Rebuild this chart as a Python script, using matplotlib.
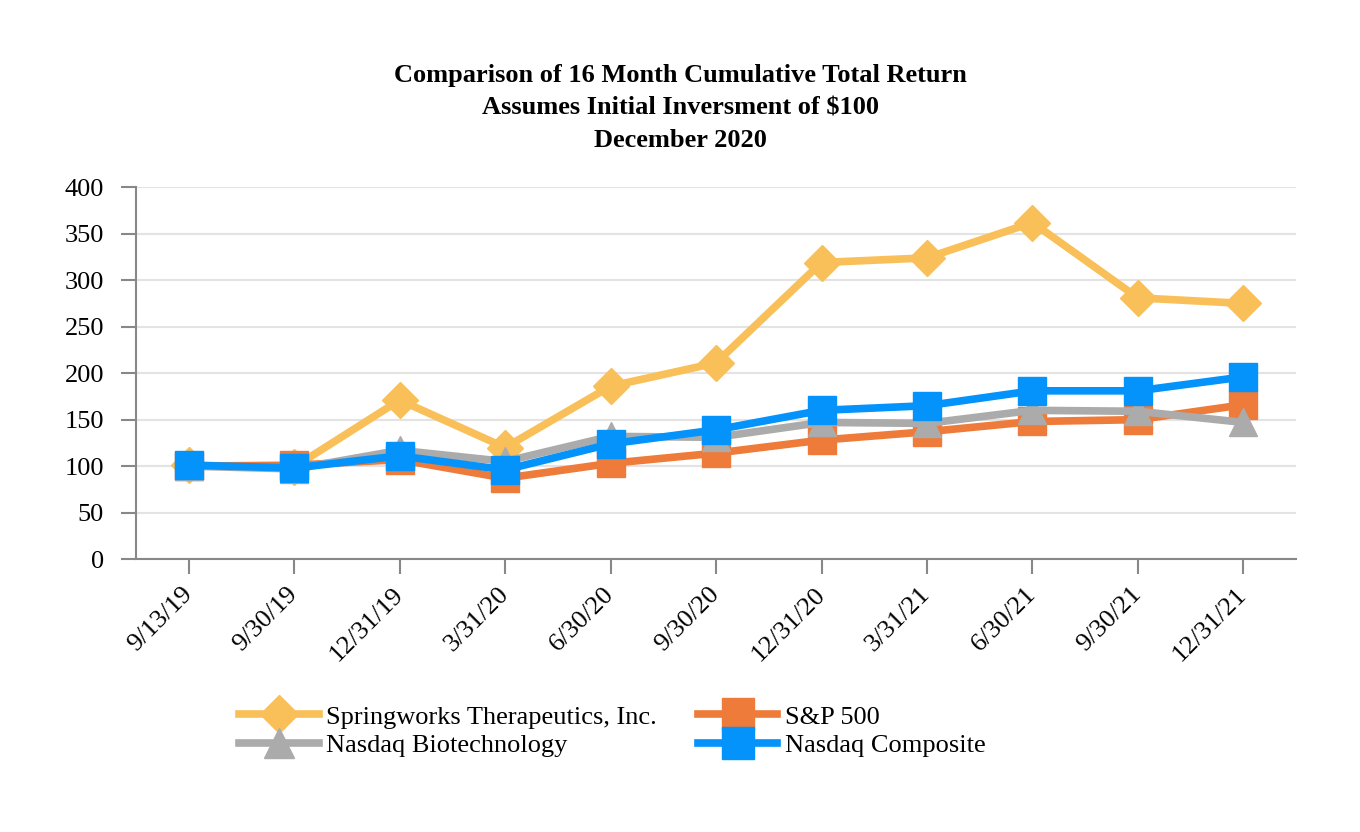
import matplotlib.pyplot as plt

plt.rcParams['font.family'] = ['Liberation Serif', 'DejaVu Serif']

dates = ['9/13/19', '9/30/19', '12/31/19', '3/31/20', '6/30/20', '9/30/20',
         '12/31/20', '3/31/21', '6/30/21', '9/30/21', '12/31/21']

# values
springworks = [101, 99, 171, 120, 186, 211, 319, 324, 362, 281, 275]
sp500 = [100, 101, 107, 87, 103, 114, 128, 137, 148, 150, 166]
nasdaq_bio = [100, 97, 117, 105, 132, 131, 147, 146, 160, 159, 147]
nasdaq_comp = [101, 98, 111, 96, 124, 139, 160, 165, 181, 181, 196]

fig = plt.figure(figsize=(13.6, 8.32), dpi=100)
ax = fig.add_axes([0.1, 0.328, 0.853, 0.447])

x = range(len(dates))
ax.plot(x, springworks, color='#F9C05A', lw=5.5, marker='D', ms=18, zorder=3,
        label='Springworks Therapeutics, Inc.')
ax.plot(x, sp500, color='#EE7B3A', lw=5.5, marker='s', ms=20.5, zorder=4, label='S&P 500')
ax.plot(x, nasdaq_bio, color='#ABABAB', lw=5.5, marker='^', ms=20, zorder=5,
        label='Nasdaq Biotechnology')
ax.plot(x, nasdaq_comp, color='#0393FB', lw=5.5, marker='s', ms=20.5, zorder=6,
        label='Nasdaq Composite')

ax.set_xlim(-0.5, len(dates) - 0.5)
ax.set_ylim(0, 400)
ax.set_yticks(range(0, 401, 50))
ax.set_xticks(list(x))
ax.set_xticklabels(dates, rotation=45, ha='right', va='center', rotation_mode='anchor')
ax.tick_params(axis='both', labelsize=19, color='#888888', length=11, width=1.5)
ax.tick_params(axis='y', pad=12)
ax.tick_params(axis='x', pad=12)
ax.grid(axis='y', color='#E3E3E3', lw=1.5)
ax.set_axisbelow(True)
for s in ['top', 'right']:
    ax.spines[s].set_visible(False)
for s in ['left', 'bottom']:
    ax.spines[s].set_color('#888888')
    ax.spines[s].set_linewidth(1.5)

title_lines = ['Comparison of 16 Month Cumulative Total Return',
               'Assumes Initial Inversment of $100',
               'December 2020']
for i, t in enumerate(title_lines):
    fig.text(0.5, 0.909 - 0.039 * i, t, ha='center', va='center', fontsize=19,
             fontweight='bold')

h, l = ax.get_legend_handles_labels()
order = [0, 2, 1, 3]
fig.legend([h[i] for i in order], [l[i] for i in order], ncol=2, frameon=False,
           fontsize=19, loc='center left', bbox_to_anchor=(0.176, 0.121),
           borderaxespad=0, borderpad=0, markerscale=1.1,
           handlelength=3.0, columnspacing=1.55, labelspacing=0.2, handletextpad=0.3)

fig.savefig('out.png', dpi=100)
